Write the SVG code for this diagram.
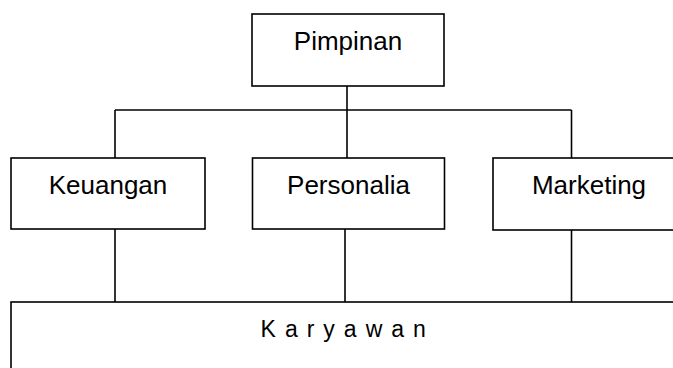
<svg xmlns="http://www.w3.org/2000/svg" width="673" height="368" viewBox="0 0 673 368">
<style>
.box{fill:#fff;stroke:#000;stroke-width:1.6}
.lbl{font-family:"Liberation Sans",Arial,sans-serif;font-size:26px;fill:#000;text-anchor:middle}
.conn{stroke:#000;stroke-width:1.6;fill:none}
</style>
<rect width="673" height="368" fill="#fff"/>
<g id="connectors">
<line class="conn" x1="347" y1="86" x2="347" y2="110"/>
<line class="conn" x1="115" y1="110" x2="571.5" y2="110"/>
<line class="conn" x1="115" y1="110" x2="115" y2="158"/>
<line class="conn" x1="347" y1="110" x2="347" y2="158"/>
<line class="conn" x1="571.5" y1="110" x2="571.5" y2="158"/>
<line class="conn" x1="115" y1="229" x2="115" y2="302"/>
<line class="conn" x1="345" y1="229" x2="345" y2="302"/>
<line class="conn" x1="571.5" y1="230" x2="571.5" y2="302"/>
</g>
<g id="pimpinan">
<rect class="box" x="252" y="14" width="192" height="72"/>
<text class="lbl" x="348" y="50">Pimpinan</text>
</g>
<g id="keuangan">
<rect class="box" x="11" y="158" width="194" height="71"/>
<text class="lbl" x="108" y="194">Keuangan</text>
</g>
<g id="personalia">
<rect class="box" x="252.5" y="158" width="192" height="71"/>
<text class="lbl" x="348.5" y="194">Personalia</text>
</g>
<g id="marketing">
<rect class="box" x="493" y="158" width="192" height="72"/>
<text class="lbl" x="589" y="194">Marketing</text>
</g>
<g id="karyawan">
<rect class="box" x="11" y="302" width="700" height="100"/>
<text x="260.6" y="337" font-family="'Liberation Sans',Arial,sans-serif" font-size="23" letter-spacing="1.3" fill="#000">K a r y a w a n</text>
</g>
</svg>
